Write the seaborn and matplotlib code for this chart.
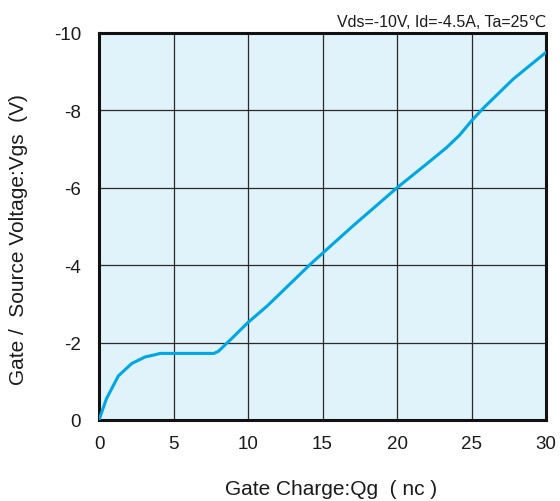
import matplotlib
matplotlib.use("Agg")
import matplotlib.pyplot as plt
import seaborn as sns
import pandas as pd

qg = [0, 0.5, 1.3, 2.2, 3.1, 3.7, 4.1, 7.7, 8.0, 9.0, 10.0, 11.3, 14.2, 17, 20, 22, 23.3, 24.2, 25.0, 25.8, 26.6, 27.8, 30]
vgs = [0, -0.55, -1.14, -1.46, -1.63, -1.68, -1.72, -1.72, -1.77, -2.14, -2.52, -2.95, -4.03, -5.0, -6.0, -6.62, -7.03, -7.36, -7.73, -8.06, -8.36, -8.81, -9.5]
xticks = [0, 5, 10, 15, 20, 25, 30]
yticks = [0, -2, -4, -6, -8, -10]

sns.set_style("white")
plt.rcParams['font.family'] = ['Liberation Sans', 'DejaVu Sans']

df = pd.DataFrame({"qg": qg, "vgs": vgs})
fig = plt.figure(figsize=(5.6, 5.02), dpi=100)
ax = fig.add_axes([0.1768, 0.1614, 0.7982, 0.7709])
ax.set_facecolor("#E0F2FA")
sns.lineplot(data=df, x="qg", y="vgs", ax=ax, color="#00A6E6", linewidth=2.2, zorder=3)
ax.set_xlim(0, 30)
ax.set_ylim(0, -10)
ax.set_xticks(xticks)
ax.set_yticks(yticks)
ax.set_xticklabels([str(t) for t in xticks], fontsize=13.5, color="#1a1a1a")
ax.set_yticklabels([str(t) for t in yticks], fontsize=13.5, color="#1a1a1a")
ax.grid(True, color="#2a2a2a", linewidth=0.9)
ax.set_axisbelow(True)
for s in ax.spines.values():
    s.set_visible(True)
    s.set_color("#111111")
    s.set_linewidth(2.2)
ax.tick_params(axis="x", length=0, pad=11)
ax.tick_params(axis="y", length=0, pad=13)
ax.set_xlabel("Gate Charge:Qg  ( nc )", fontsize=15, color="#1a1a1a")
ax.set_ylabel("Gate /  Source Voltage:Vgs  (V)", fontsize=15, color="#1a1a1a")
ax.xaxis.set_label_coords((331 - 99) / 447, -(490 - 421) / 387)
ax.xaxis.label.set_va("center")
ax.yaxis.set_label_coords((18 - 99) / 447, (421 - 240) / 387)
ax.yaxis.label.set_va("center")
ax.text(1.0, 1.01, "Vds=-10V, Id=-4.5A, Ta=25\u2103", transform=ax.transAxes,
        ha="right", va="bottom", fontsize=11.5, color="#1a1a1a")
fig.savefig("out.png", dpi=100)
